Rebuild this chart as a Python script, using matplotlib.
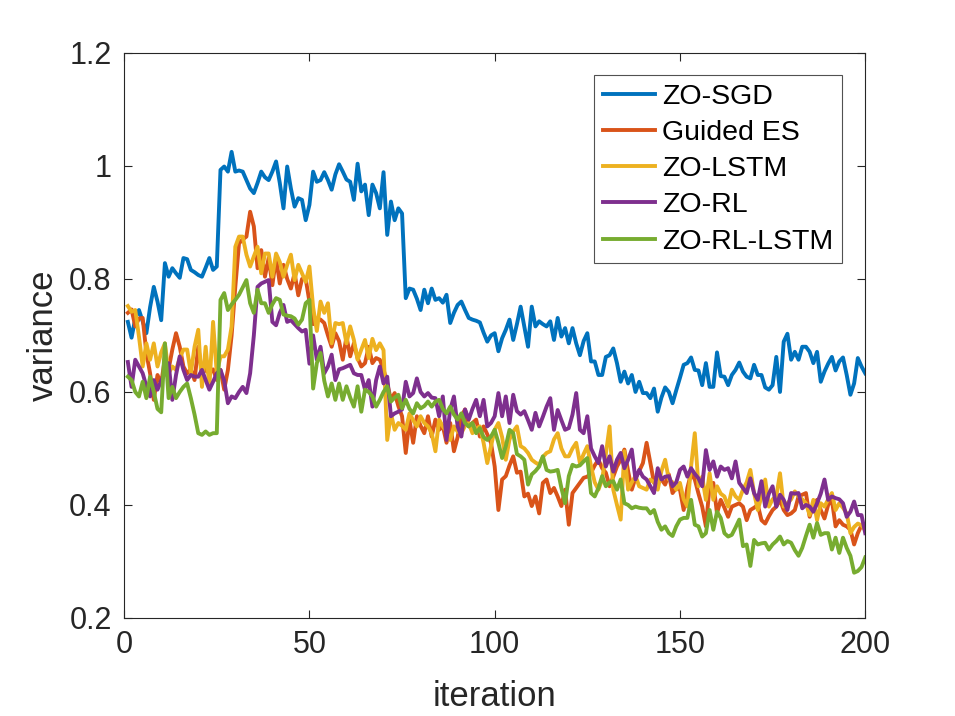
import matplotlib
matplotlib.use("Agg")
import matplotlib.pyplot as plt
import numpy as np

iterations = list(range(1, 201))

zo_sgd = [
0.724,0.696,0.730,0.745,0.725,0.704,0.750,0.786,0.760,0.727,
0.828,0.804,0.819,0.810,0.802,0.837,0.835,0.816,0.812,0.807,
0.804,0.820,0.837,0.816,0.822,0.993,0.999,0.990,1.025,0.990,
0.992,0.990,0.975,0.960,0.952,0.970,0.990,0.980,0.975,0.990,
1.008,0.970,0.925,0.999,0.960,0.928,0.943,0.940,0.904,0.931,
0.990,0.972,0.975,0.989,0.975,0.958,0.985,1.003,0.990,0.976,
0.972,0.940,1.004,0.955,0.967,0.913,0.967,0.952,0.925,0.989,
0.878,0.937,0.904,0.925,0.916,0.766,0.783,0.781,0.765,0.745,
0.781,0.757,0.783,0.763,0.766,0.758,0.772,0.722,0.740,0.754,
0.760,0.745,0.731,0.728,0.726,0.723,0.705,0.689,0.700,0.704,
0.672,0.695,0.710,0.728,0.692,0.720,0.751,0.715,0.680,0.751,
0.716,0.725,0.720,0.716,0.725,0.692,0.731,0.698,0.713,0.686,
0.713,0.686,0.665,0.690,0.704,0.654,0.654,0.630,0.630,0.662,
0.665,0.677,0.651,0.618,0.636,0.615,0.630,0.600,0.618,0.598,
0.598,0.589,0.606,0.565,0.590,0.608,0.600,0.580,0.603,0.625,
0.648,0.651,0.661,0.639,0.638,0.612,0.651,0.609,0.609,0.670,
0.628,0.627,0.612,0.630,0.639,0.652,0.636,0.627,0.624,0.648,
0.630,0.630,0.608,0.604,0.612,0.662,0.600,0.689,0.703,0.657,
0.671,0.657,0.680,0.680,0.671,0.651,0.671,0.618,0.636,0.650,
0.662,0.638,0.654,0.661,0.630,0.595,0.615,0.660,0.645,0.633]

guided_es = [
0.740,0.746,0.716,0.730,0.731,0.669,0.633,0.586,0.630,0.615,
0.660,0.640,0.675,0.704,0.680,0.645,0.633,0.640,0.621,0.680,
0.633,0.639,0.633,0.640,0.621,0.639,0.604,0.639,0.700,0.786,
0.863,0.870,0.875,0.919,0.893,0.819,0.851,0.804,0.837,0.789,
0.837,0.792,0.825,0.800,0.783,0.810,0.771,0.800,0.800,0.760,
0.720,0.730,0.728,0.722,0.700,0.680,0.704,0.690,0.657,0.698,
0.663,0.686,0.660,0.645,0.651,0.680,0.651,0.660,0.657,0.640,
0.615,0.586,0.598,0.575,0.557,0.492,0.551,0.510,0.557,0.540,
0.527,0.557,0.521,0.551,0.533,0.540,0.510,0.545,0.495,0.520,
0.557,0.569,0.539,0.545,0.551,0.521,0.539,0.525,0.510,0.468,
0.391,0.445,0.451,0.470,0.486,0.457,0.459,0.415,0.420,0.398,
0.415,0.385,0.439,0.445,0.421,0.430,0.415,0.398,0.427,0.365,
0.421,0.430,0.439,0.448,0.450,0.457,0.470,0.480,0.465,0.457,
0.433,0.450,0.468,0.480,0.498,0.460,0.427,0.448,0.460,0.474,
0.510,0.474,0.439,0.454,0.445,0.436,0.454,0.421,0.430,0.427,
0.391,0.430,0.456,0.445,0.420,0.397,0.362,0.433,0.439,0.385,
0.409,0.395,0.379,0.397,0.400,0.403,0.397,0.373,0.391,0.395,
0.400,0.373,0.367,0.380,0.391,0.397,0.409,0.391,0.382,0.385,
0.391,0.415,0.418,0.421,0.379,0.400,0.409,0.391,0.376,0.400,
0.409,0.362,0.373,0.365,0.362,0.356,0.330,0.350,0.364,0.361]

zo_lstm = [
0.752,0.742,0.745,0.698,0.645,0.686,0.657,0.686,0.645,0.670,
0.686,0.633,0.645,0.639,0.660,0.675,0.675,0.633,0.680,0.710,
0.609,0.680,0.609,0.724,0.633,0.663,0.663,0.675,0.716,0.857,
0.875,0.875,0.843,0.822,0.840,0.857,0.810,0.845,0.845,0.804,
0.845,0.830,0.804,0.825,0.843,0.798,0.825,0.810,0.795,0.822,
0.750,0.708,0.760,0.740,0.757,0.686,0.722,0.720,0.722,0.686,
0.716,0.692,0.657,0.675,0.692,0.660,0.694,0.674,0.686,0.674,
0.515,0.562,0.533,0.545,0.540,0.533,0.562,0.550,0.539,0.557,
0.545,0.539,0.527,0.495,0.551,0.539,0.530,0.515,0.539,0.530,
0.527,0.540,0.545,0.527,0.535,0.539,0.510,0.474,0.504,0.533,
0.545,0.520,0.480,0.516,0.530,0.539,0.504,0.500,0.492,0.480,
0.475,0.471,0.485,0.492,0.495,0.516,0.527,0.500,0.486,0.486,
0.500,0.510,0.474,0.490,0.504,0.468,0.440,0.427,0.445,0.490,
0.539,0.427,0.400,0.374,0.495,0.427,0.440,0.451,0.433,0.430,
0.427,0.445,0.440,0.427,0.460,0.480,0.445,0.440,0.427,0.439,
0.410,0.397,0.468,0.527,0.433,0.450,0.409,0.456,0.409,0.433,
0.420,0.415,0.397,0.427,0.415,0.409,0.427,0.440,0.462,0.421,
0.391,0.415,0.445,0.397,0.410,0.415,0.456,0.397,0.403,0.410,
0.424,0.415,0.410,0.403,0.382,0.409,0.373,0.403,0.397,0.410,
0.421,0.391,0.403,0.395,0.385,0.350,0.361,0.367,0.364,0.355]

zo_rl = [
0.653,0.609,0.657,0.645,0.633,0.610,0.592,0.621,0.604,0.620,
0.633,0.651,0.586,0.630,0.663,0.639,0.621,0.630,0.627,0.627,
0.639,0.621,0.604,0.618,0.633,0.639,0.620,0.580,0.592,0.589,
0.600,0.609,0.598,0.633,0.700,0.786,0.792,0.795,0.798,0.724,
0.718,0.740,0.754,0.724,0.727,0.720,0.713,0.707,0.710,0.650,
0.700,0.657,0.680,0.633,0.645,0.666,0.621,0.640,0.642,0.645,
0.648,0.633,0.630,0.630,0.604,0.621,0.574,0.621,0.645,0.615,
0.627,0.557,0.562,0.565,0.569,0.618,0.592,0.598,0.624,0.600,
0.592,0.598,0.590,0.589,0.557,0.592,0.515,0.569,0.592,0.539,
0.521,0.569,0.551,0.570,0.586,0.557,0.586,0.539,0.545,0.557,
0.598,0.557,0.592,0.545,0.595,0.566,0.560,0.566,0.550,0.533,
0.563,0.539,0.556,0.574,0.589,0.533,0.568,0.550,0.533,0.536,
0.560,0.598,0.533,0.527,0.557,0.500,0.486,0.474,0.504,0.468,
0.486,0.459,0.480,0.492,0.465,0.480,0.498,0.445,0.462,0.450,
0.445,0.433,0.421,0.465,0.445,0.450,0.451,0.433,0.440,0.462,
0.468,0.450,0.465,0.455,0.447,0.433,0.497,0.462,0.477,0.450,
0.468,0.462,0.465,0.447,0.477,0.439,0.430,0.421,0.447,0.421,
0.409,0.442,0.397,0.420,0.433,0.397,0.418,0.409,0.391,0.421,
0.420,0.421,0.394,0.400,0.397,0.388,0.403,0.420,0.445,0.409,
0.415,0.412,0.410,0.403,0.379,0.388,0.406,0.382,0.382,0.350]

zo_rl_lstm = [
0.627,0.621,0.600,0.592,0.618,0.589,0.627,0.600,0.570,0.564,
0.686,0.589,0.609,0.589,0.600,0.609,0.615,0.589,0.560,0.527,
0.524,0.530,0.524,0.527,0.527,0.763,0.775,0.745,0.755,0.763,
0.772,0.785,0.798,0.757,0.740,0.781,0.757,0.757,0.740,0.755,
0.766,0.763,0.737,0.735,0.734,0.730,0.719,0.728,0.757,0.763,
0.606,0.651,0.669,0.620,0.592,0.615,0.586,0.615,0.586,0.610,
0.590,0.574,0.610,0.565,0.604,0.600,0.592,0.574,0.586,0.600,
0.610,0.583,0.590,0.595,0.571,0.586,0.570,0.562,0.580,0.571,
0.575,0.583,0.574,0.583,0.586,0.570,0.562,0.574,0.560,0.551,
0.562,0.545,0.539,0.545,0.527,0.536,0.520,0.515,0.521,0.533,
0.510,0.483,0.504,0.533,0.527,0.490,0.486,0.480,0.436,0.454,
0.460,0.468,0.486,0.462,0.459,0.460,0.462,0.430,0.403,0.451,
0.471,0.468,0.470,0.477,0.483,0.421,0.415,0.430,0.451,0.433,
0.440,0.442,0.427,0.445,0.403,0.400,0.394,0.397,0.395,0.394,
0.394,0.385,0.391,0.370,0.356,0.362,0.350,0.345,0.362,0.374,
0.377,0.377,0.409,0.365,0.362,0.344,0.350,0.391,0.356,0.388,
0.377,0.350,0.344,0.347,0.360,0.374,0.327,0.330,0.292,0.338,
0.330,0.332,0.333,0.321,0.330,0.336,0.344,0.330,0.336,0.333,
0.320,0.310,0.324,0.345,0.365,0.342,0.368,0.347,0.350,0.350,
0.321,0.342,0.315,0.342,0.324,0.310,0.280,0.283,0.290,0.307]

series_names = ["ZO-SGD", "Guided ES", "ZO-LSTM", "ZO-RL", "ZO-RL-LSTM"]
series_data = [zo_sgd, guided_es, zo_lstm, zo_rl, zo_rl_lstm]
colors = ["#0072BD", "#D95319", "#EDB120", "#7E2F8E", "#77AC30"]

x_ticks = [0, 50, 100, 150, 200]
y_ticks = [0.2, 0.4, 0.6, 0.8, 1.0, 1.2]
y_tick_labels = ["0.2", "0.4", "0.6", "0.8", "1", "1.2"]

plt.rcParams['font.family'] = ['Liberation Sans', 'DejaVu Sans']

fig = plt.figure(figsize=(9.55, 7.16), dpi=100)
ax = fig.add_axes([0.13, 0.137, 0.776, 0.789])

for name, data, c in zip(series_names, series_data, colors):
    ax.plot(iterations, data, color=c, linewidth=2.8, label=name)

ax.set_xlim(0, 200)
ax.set_ylim(0.2, 1.2)
ax.set_xticks(x_ticks)
ax.set_yticks(y_ticks)
ax.set_yticklabels(y_tick_labels)
ax.tick_params(axis='both', direction='in', length=6, width=0.8, labelsize=22,
               colors='#262626', top=True, right=True, pad=9)
for s in ax.spines.values():
    s.set_color('#262626')
    s.set_linewidth(0.8)

ax.set_xlabel("iteration", fontsize=25, color='#262626', labelpad=14)
ax.set_ylabel("variance", fontsize=25, color='#262626', labelpad=7)

leg = ax.legend(loc='upper right', bbox_to_anchor=(0.969, 0.961), fontsize=20.5,
                frameon=True, fancybox=False, borderpad=0.3, labelspacing=0.36,
                handlelength=1.85, handletextpad=0.25, borderaxespad=0)
leg.get_frame().set_edgecolor('#262626')
leg.get_frame().set_linewidth(0.8)

fig.savefig("out.png", dpi=100, facecolor='white')
